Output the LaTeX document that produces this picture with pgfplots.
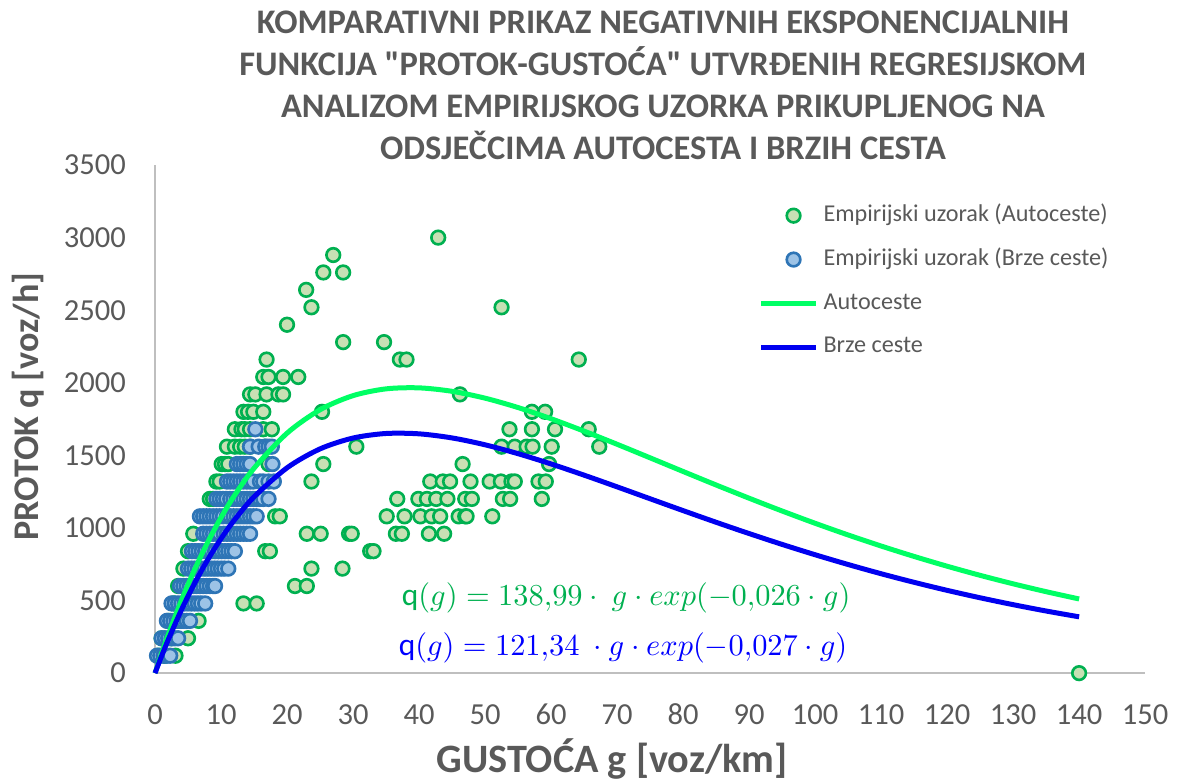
\documentclass[border=0pt]{standalone}
\usepackage{fontspec}
\setmainfont{Carlito}
\newfontfamily\rawfont{Carlito}
\usepackage{pgfplots}
\pgfplotsset{compat=1.18}
\definecolor{txt}{HTML}{595959}
\definecolor{gfill}{HTML}{C8E0B4}
\definecolor{gedge}{HTML}{00B050}
\definecolor{bfill}{HTML}{9DC3E6}
\definecolor{bedge}{HTML}{2E75B6}
\definecolor{gline}{HTML}{00FF64}
\definecolor{bline}{HTML}{0000F0}
\definecolor{eqg}{HTML}{00B050}
\definecolor{eqb}{HTML}{0000FF}
\definecolor{axgray}{HTML}{BFBFBF}
\pgfplotsset{
  marklegend/.style={legend image code/.code={\path (0pt,0pt) (19.8pt,0pt); \draw[##1,only marks] plot coordinates {(11.7pt,0pt)};}},
  linelegend/.style={legend image code/.code={\draw[##1] (0pt,0pt) -- (19.8pt,0pt);}},
}
\begin{document}
\begin{tikzpicture}
\useasboundingbox (-55.8pt,-38.5pt) rectangle (368.6pt,242.3pt);
\begin{axis}[
  scale only axis, width=356.4pt, height=182.9pt,
  xmin=0, xmax=150, ymin=0, ymax=3500,
  xtick={0,10,...,150}, ytick={0,500,...,3500},
  axis x line=bottom, axis y line=left,
  axis line style={draw=axgray, line width=0.75pt, -},
  major tick length=0pt,
  ticklabel style={font=\fontsize{11}{13}\selectfont, text=txt},
  /pgf/number format/assume math mode=true,
  /pgf/number format/1000 sep={},
  xticklabel style={anchor=base, yshift=-18.6pt}, yticklabel style={xshift=-7pt},
  xlabel={GUSTOĆA g [voz/km]}, ylabel={PROTOK q [voz/h]},
  every axis x label/.style={at={(axis description cs:0.4616,-0.169)}, anchor=center, font=\bfseries\fontsize{14.5}{16}\selectfont, text=txt},
  every axis y label/.style={at={(axis description cs:-0.1283,0.5246)}, anchor=center, rotate=90, font=\bfseries\fontsize{13}{15}\selectfont, text=txt},
  clip=false, clip marker paths=true,
  legend cell align=left,
  legend style={at={(axis description cs:0.609,0.9233)}, anchor=north west, draw=none, fill=none,
    font=\fontsize{8.7}{10}\selectfont, text=txt, inner sep=0pt, row sep=7.8pt,
    nodes={inner sep=0pt, text height=6pt, text depth=2pt},
    /tikz/every odd column/.append style={column sep=1.8pt}},
]
\addplot[only marks, mark=*, mark size=2.45pt, mark options={fill=gfill, draw=gedge, line width=0.95pt}, marklegend]
coordinates {
(0.5,120)(1.5,120)(3.1,120)
(1.0,240)(2.5,240)(5.0,240)
(2.0,360)(4.0,360)(6.6,360)
(2.8,480)(13.4,480)(15.4,480)
(3.5,600)(21.2,600)(23.0,600)
(4.3,720)(23.7,720)(28.4,720)
(5.0,840)(16.7,840)(17.4,840)(32.6,840)(33.1,840)
(5.8,960)(23.0,960)(25.1,960)(29.4,960)(29.8,960)(36.5,960)(37.4,960)(41.5,960)(43.8,960)
(18.2,1080)(18.9,1080)(35.1,1080)(37.8,1080)(40.2,1080)(41.9,1080)(43.2,1080)(46.0,1080)(47.0,1080)(47.2,1080)(51.1,1080)
(8.3,1200)(8.8,1200)(36.7,1200)(39.9,1200)(41.2,1200)(42.6,1200)(44.3,1200)(47.0,1200)(48.0,1200)(52.7,1200)(53.8,1200)(58.6,1200)
(9.3,1320)(9.8,1320)(23.7,1320)(41.7,1320)(43.6,1320)(44.7,1320)(47.8,1320)(50.7,1320)(52.4,1320)(54.0,1320)(54.5,1320)(58.1,1320)(59.2,1320)
(10.1,1440)(10.6,1440)(11.1,1440)(17.2,1440)(25.5,1440)(46.6,1440)(59.7,1440)
(10.9,1560)(12.1,1560)(12.9,1560)(13.6,1560)(14.4,1560)(16.7,1560)(30.5,1560)(52.5,1560)(54.5,1560)(56.3,1560)(57.2,1560)(60.1,1560)(67.3,1560)
(12.1,1680)(13.1,1680)(13.6,1680)(14.4,1680)(16.4,1680)(17.7,1680)(53.7,1680)(57.1,1680)(60.6,1680)(65.7,1680)
(13.4,1800)(14.1,1800)(14.9,1800)(16.4,1800)(25.3,1800)(57.1,1800)(59.1,1800)
(14.4,1920)(15.2,1920)(16.9,1920)(18.7,1920)(19.4,1920)(46.2,1920)
(16.4,2040)(17.2,2040)(19.4,2040)(21.7,2040)
(16.9,2160)(37.1,2160)(38.1,2160)(64.2,2160)
(28.5,2280)(34.7,2280)
(20.0,2400)
(23.7,2520)(52.5,2520)
(22.9,2640)
(25.5,2760)(28.5,2760)
(27.0,2880)
(42.9,3000)
(140,0)
};
\addlegendentry{Empirijski uzorak (Autoceste)}
\addplot[only marks, mark=*, mark size=2.45pt, mark options={fill=bfill, draw=bedge, line width=0.95pt}, marklegend]
coordinates {
(0.3,120)(0.8,120)(1.3,120)(1.8,120)(2.3,120)
(1.0,240)(1.5,240)(2.0,240)(2.5,240)(3.0,240)(3.5,240)
(1.8,360)(2.3,360)(2.8,360)(3.3,360)(3.8,360)(4.3,360)(4.8,360)(5.3,360)
(2.5,480)(3.0,480)(3.5,480)(4.0,480)(4.5,480)(5.0,480)(5.5,480)(6.0,480)(6.5,480)(7.0,480)(7.6,480)
(3.8,600)(4.3,600)(4.8,600)(5.3,600)(5.8,600)(6.3,600)(6.8,600)(7.3,600)(7.8,600)(8.3,600)(8.8,600)(9.1,600)
(5.0,720)(5.5,720)(6.0,720)(6.5,720)(7.0,720)(7.5,720)(8.0,720)(8.5,720)(9.0,720)(9.5,720)(10.0,720)(10.5,720)(11.1,720)
(5.6,840)(6.1,840)(6.6,840)(7.1,840)(7.6,840)(8.1,840)(8.6,840)(9.1,840)(9.6,840)(10.1,840)(10.6,840)(11.1,840)(11.6,840)(12.1,840)
(7.3,960)(7.8,960)(8.3,960)(8.8,960)(9.3,960)(9.8,960)(10.4,960)(10.9,960)(11.4,960)(11.9,960)(12.4,960)(12.9,960)(13.4,960)(13.9,960)(14.4,960)
(6.8,1080)(7.3,1080)(7.8,1080)(8.3,1080)(8.8,1080)(9.3,1080)(9.8,1080)(10.3,1080)(10.9,1080)(11.4,1080)(11.9,1080)(12.4,1080)(12.9,1080)(13.4,1080)(13.9,1080)(14.4,1080)(14.9,1080)(15.4,1080)
(9.3,1200)(9.8,1200)(10.3,1200)(10.8,1200)(11.4,1200)(11.9,1200)(12.4,1200)(12.9,1200)(13.4,1200)(13.9,1200)(14.4,1200)(14.9,1200)(15.4,1200)(15.9,1200)(16.4,1200)(17.2,1200)
(10.9,1320)(11.4,1320)(11.9,1320)(12.4,1320)(12.9,1320)(13.4,1320)(13.9,1320)(14.4,1320)(14.9,1320)(15.9,1320)(16.4,1320)(17.2,1320)(18.0,1320)
(12.4,1440)(12.9,1440)(13.4,1440)(13.9,1440)(14.4,1440)(17.8,1440)
(14.4,1560)(15.7,1560)(16.7,1560)(17.2,1560)(17.7,1560)
(15.2,1680)
};
\addlegendentry{Empirijski uzorak (Brze ceste)}
\addplot[gline, line width=1.8pt, smooth, linelegend]
coordinates {
(0,0)(1,135.4)(2,263.9)(4,501.1)(6,713.5)(8,903.1)(10,1071.7)(12,1220.9)(15,1411.6)(20,1652.7)(25,1814.0)(30,1911.4)(35,1958.1)(40,1965.0)(45,1941.2)(50,1894.0)(55,1829.4)(60,1752.4)(65,1667.0)(70,1576.4)(75,1483.1)(80,1389.1)(85,1296.0)(90,1205.0)(95,1116.8)(100,1032.3)(105,951.8)(110,875.6)(115,803.8)(120,736.5)(125,673.6)(130,615.2)(135,561.0)(140,510.8)
};
\addlegendentry{Autoceste}
\addplot[bline, line width=1.8pt, smooth, linelegend]
coordinates {
(0,0)(1,118.1)(2,229.9)(4,435.7)(6,619.2)(8,782.1)(10,926.3)(12,1053.1)(15,1214.0)(20,1414.2)(25,1544.5)(30,1619.4)(35,1650.7)(40,1648.3)(45,1620.1)(50,1572.8)(55,1511.6)(60,1440.8)(65,1363.8)(70,1283.2)(75,1201.2)(80,1119.5)(85,1039.2)(90,961.4)(95,886.7)(100,815.5)(105,748.2)(110,684.7)(115,625.5)(120,570.2)(125,519.0)(130,471.6)(135,427.9)(140,387.7)
};
\addlegendentry{Brze ceste}
\node[font=\bfseries\fontsize{12.4}{15.1}\selectfont, text=txt, align=center] at (rel axis cs:0.513,1) [yshift=28.6pt]
{KOMPARATIVNI PRIKAZ NEGATIVNIH EKSPONENCIJALNIH\\FUNKCIJA {\rawfont "}PROTOK-GUSTOĆA{\rawfont "} UTVRĐENIH REGRESIJSKOM\\ANALIZOM EMPIRIJSKOG UZORKA PRIKUPLJENOG NA\\ODSJEČCIMA AUTOCESTA I BRZIH CESTA};
\node[text=eqg, font=\fontsize{11.3}{13}\selectfont] at (rel axis cs:0.4758,0.1476)
{$\mathrm{q}(g) = 138{,}99\cdot\ g\cdot exp(-0{,}026\cdot g)$};
\node[text=eqb, font=\fontsize{11.3}{13}\selectfont] at (rel axis cs:0.4727,0.0492)
{$\mathrm{q}(g) = 121{,}34\ \cdot g\cdot exp(-0{,}027\cdot g)$};
\end{axis}
\end{tikzpicture}
\end{document}
